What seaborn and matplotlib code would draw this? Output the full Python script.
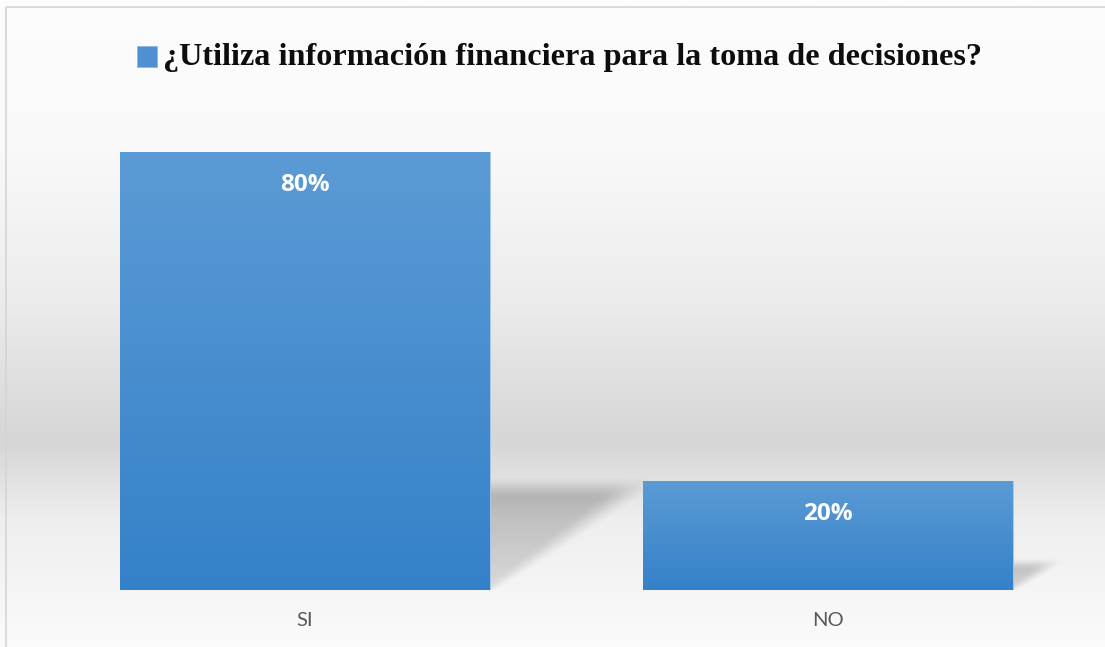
import matplotlib
matplotlib.use("Agg")
import matplotlib.pyplot as plt
import matplotlib.colors as mcolors
import numpy as np
import pandas as pd
import seaborn as sns
from matplotlib.patches import Rectangle

categories = ["SI", "NO"]
values = [80, 20]
value_labels = ["80%", "20%"]
title = "¿Utiliza información financiera para la toma de decisiones?"

W, H = 1105, 647
sns.set_theme(style="white")
plt.rcParams['font.family'] = ['Lato', 'DejaVu Sans']

fig = plt.figure(figsize=(W / 100, H / 100), dpi=100)

# background gradient for the whole chart area
bg = fig.add_axes([0, 0, 1, 1])
bg.set_axis_off()
stops = [(0, "#fdfdfd"), (150, "#f9f9f9"), (300, "#ececec"), (443, "#d6d6d6"),
         (520, "#eeeeee"), (647, "#fbfbfb")]
bg_cmap = mcolors.LinearSegmentedColormap.from_list(
    "bg", [(p / H, c) for p, c in stops])
grad = np.linspace(0, 1, 400).reshape(-1, 1)
bg.imshow(grad, cmap=bg_cmap, aspect="auto", extent=[0, W, H, 0])
bg.set_xlim(0, W)
bg.set_ylim(H, 0)
bg.add_patch(Rectangle((6, 7), W, H, fill=False, edgecolor="#d4d4d4", lw=1.2))

# plot area
left_px, right_px, base_px = 43.5, 1089.5, 590
ymax = 88
top_px = base_px - ymax * 438 / 80
ax = fig.add_axes([left_px / W, (H - base_px) / H,
                   (right_px - left_px) / W, (base_px - top_px) / H])
ax.patch.set_alpha(0)

df = pd.DataFrame({"respuesta": categories, "valor": values})
sns.barplot(data=df, x="respuesta", y="valor", width=0.707, color="#5b9bd5",
            edgecolor="#a9c9ea", linewidth=0.6, ax=ax, zorder=3)
ax.set_xlim(-0.5, 1.5)
ax.set_ylim(0, ymax)

bar_cmap = mcolors.LinearSegmentedColormap.from_list("bar", ["#5b9bd5", "#3581c9"])

# pixels per data unit
sx = right_px - left_px
sy = (base_px - top_px) / ymax


def soft(d, b):
    t = np.clip((d + b) / (2 * b), 0, 1)
    return t * t * (3 - 2 * t)


for patch, v, lab in zip(ax.patches, values, value_labels):
    x0, w, h = patch.get_x(), patch.get_width(), patch.get_height()
    # blurred perspective shadow behind the bar
    dx, dy = v * 0.00345, v * 0.235
    blur = 6 + v * 0.08
    xa, xb = x0 + w - 0.01, x0 + w + dx + 30 / sx
    ya, yb = 0, dy + 25 / sy
    nx, ny = int((xb - xa) * sx), int((yb - ya) * sy)
    gx, gy = np.meshgrid(np.linspace(xa, xb, nx), np.linspace(yb, ya, ny))
    d_top = (dy - gy) * sy
    xr = x0 + w + dx * gy / dy
    dxp, dyp = dx * sx, dy * sy
    d_diag = (xr - gx) * sx * dyp / np.hypot(dxp, dyp)
    mask = soft(d_top, blur) * soft(d_diag, blur * (0.6 + 0.8 * np.clip(gy / dy, 0, 1)))
    alpha = mask * (0.11 + 0.12 * np.clip(gy / dy, 0, 1))
    rgba = np.zeros((ny, nx, 4))
    rgba[..., 3] = alpha
    ax.imshow(rgba, aspect="auto", extent=[xa, xb, ya, yb], origin="upper", zorder=1)
    # gradient fill on bar
    bim = ax.imshow(np.linspace(0, 1, 100).reshape(-1, 1), cmap=bar_cmap, aspect="auto",
                    extent=[x0, x0 + w, 0, h], origin="upper", zorder=3.5)
    bim.set_clip_path(patch)
    ax.annotate(lab, (x0 + w / 2, h), xytext=(0, -24), textcoords="offset points",
                ha="center", va="center", color="white", fontsize=17.5,
                fontweight="bold", family=["Open Sans", "DejaVu Sans"], zorder=5)

ax.set_xlim(-0.5, 1.5)
ax.set_ylim(0, ymax)
ax.set_xlabel("")
ax.set_ylabel("")
ax.set_yticks([])
ax.tick_params(axis="x", length=0, pad=16, labelsize=14.5, labelcolor="#595959")
sns.despine(ax=ax, left=True, bottom=True)

# legend-like title
fig.patches.append(Rectangle((137 / W, 1 - 67 / H), 20 / W, 21 / H,
                             transform=fig.transFigure, facecolor="#4f90d2",
                             edgecolor="#8db8e4", lw=0.6))
fig.text(163 / W, 1 - 57 / H, title, ha="left", va="center",
         family=["Liberation Serif", "DejaVu Serif"], fontweight="bold",
         fontsize=23.2, color="#0d0d0d")

fig.savefig("out.png", dpi=100)
